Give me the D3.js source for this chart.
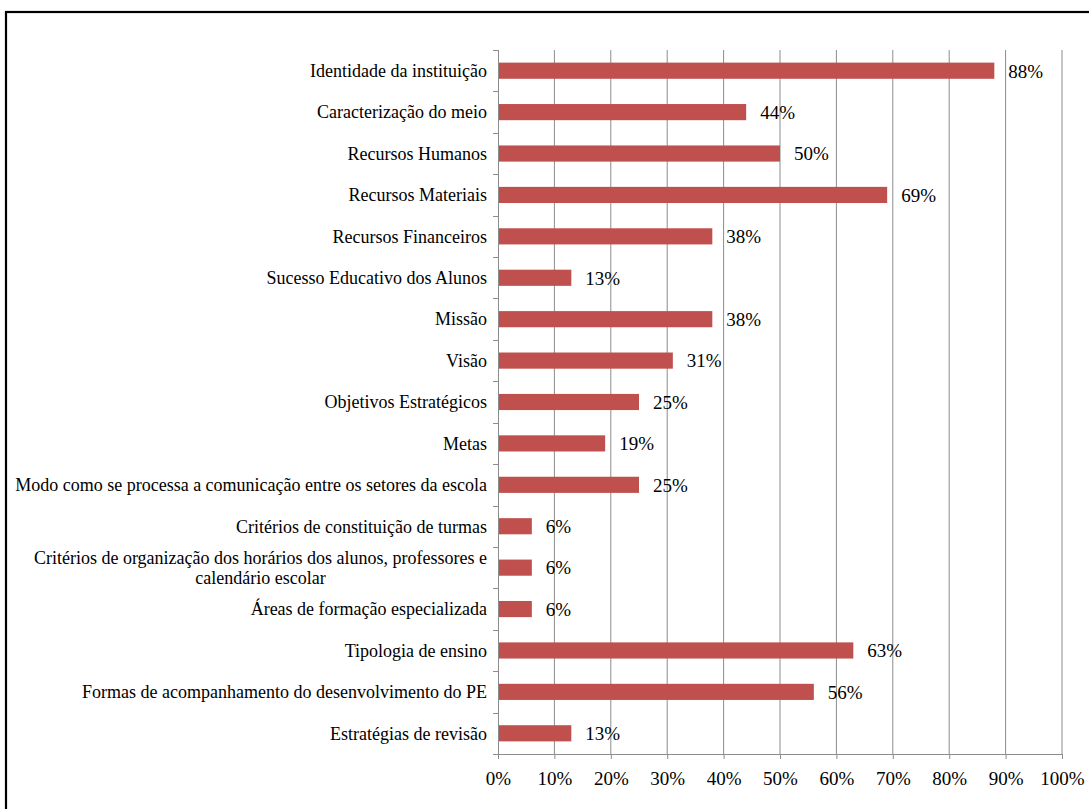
<!DOCTYPE html>
<html>
<head>
<meta charset="utf-8">
<script src="https://cdn.jsdelivr.net/npm/d3@7"></script>
<style>
  html, body { margin: 0; padding: 0; background: #fff; }
  svg { display: block; }
  text { font-family: "Liberation Serif", "Times New Roman", serif; fill: #000; }
</style>
</head>
<body>
<svg id="chart" width="1089" height="809"></svg>
<script>
// Elements of the school's educational project (PE) and share of documents that include them
const categories = [
  "Identidade da instituição",
  "Caracterização do meio",
  "Recursos Humanos",
  "Recursos Materiais",
  "Recursos Financeiros",
  "Sucesso Educativo dos Alunos",
  "Missão",
  "Visão",
  "Objetivos Estratégicos",
  "Metas",
  "Modo como se processa a comunicação entre os setores da escola",
  "Critérios de constituição de turmas",
  "Critérios de organização dos horários dos alunos, professores e|calendário escolar",
  "Áreas de formação especializada",
  "Tipologia de ensino",
  "Formas de acompanhamento do desenvolvimento do PE",
  "Estratégias de revisão"
];
const values = [88, 44, 50, 69, 38, 13, 38, 31, 25, 19, 25, 6, 6, 6, 63, 56, 13];
const tickValues = [0, 10, 20, 30, 40, 50, 60, 70, 80, 90, 100];

const svg = d3.select("#chart");
const W = 1089, H = 809;
const margin = { top: 50, right: 27, bottom: 55, left: 498 };
const plotW = W - margin.left - margin.right;
const plotH = H - margin.top - margin.bottom;
const labelSize = "18px", numberSize = "19px";

// outer frame
svg.append("rect")
  .attr("x", 6).attr("y", 12)
  .attr("width", W + 20).attr("height", H + 20)
  .attr("fill", "none").attr("stroke", "#000").attr("stroke-width", 2.2);

const g = svg.append("g").attr("transform", `translate(${margin.left},${margin.top})`);

const x = d3.scaleLinear().domain([0, 100]).range([0, plotW]);
const y = d3.scaleBand().domain(categories).range([0, plotH])
  .paddingInner(0.61).paddingOuter(0.305);
const step = y.step();

// vertical gridlines
g.append("g").selectAll("line")
  .data(tickValues.slice(1))
  .join("line")
  .attr("x1", d => x(d)).attr("x2", d => x(d))
  .attr("y1", 0).attr("y2", plotH)
  .attr("stroke", "#8c8c8c").attr("stroke-width", 1);

// bars
g.append("g").selectAll("rect")
  .data(values)
  .join("rect")
  .attr("x", x(0))
  .attr("y", (d, i) => y(categories[i]))
  .attr("width", d => x(d) - x(0))
  .attr("height", y.bandwidth())
  .attr("fill", "#c0504d");

// value labels
g.append("g").selectAll("text")
  .data(values)
  .join("text")
  .attr("x", d => x(d) + 14)
  .attr("y", (d, i) => y(categories[i]) + y.bandwidth() / 2)
  .attr("dy", "0.36em")
  .style("font-size", numberSize)
  .text(d => d + "%");

// category axis line and boundary ticks
g.append("line")
  .attr("x1", 0.5).attr("x2", 0.5).attr("y1", 0).attr("y2", plotH)
  .attr("stroke", "#8c8c8c");
g.append("g").selectAll("line")
  .data(d3.range(categories.length + 1))
  .join("line")
  .attr("x1", -5).attr("x2", 0)
  .attr("y1", i => Math.round(i * step) + 0.5).attr("y2", i => Math.round(i * step) + 0.5)
  .attr("stroke", "#8c8c8c");

// category labels (a "|" marks a line break)
const labels = g.append("g");
categories.forEach(c => {
  const lines = c.split("|");
  const cy = y(c) + y.bandwidth() / 2;
  if (lines.length === 1) {
    labels.append("text")
      .attr("x", -11).attr("y", cy).attr("dy", "0.35em")
      .attr("text-anchor", "end")
      .style("font-size", labelSize)
      .text(c);
  } else {
    const t1 = labels.append("text")
      .attr("x", -11).attr("y", cy - 10).attr("dy", "0.35em")
      .attr("text-anchor", "end")
      .style("font-size", labelSize)
      .text(lines[0]);
    const w = t1.node().getComputedTextLength();
    labels.append("text")
      .attr("x", -11 - w / 2).attr("y", cy + 10).attr("dy", "0.35em")
      .attr("text-anchor", "middle")
      .style("font-size", labelSize)
      .text(lines[1]);
  }
});

// value axis
const xAxis = d3.axisBottom(x)
  .tickValues(tickValues)
  .tickFormat(d => d + "%")
  .tickSize(5)
  .tickPadding(13);
const ax = g.append("g")
  .attr("transform", `translate(0,${plotH})`)
  .call(xAxis);
ax.select(".domain").attr("stroke", "#8c8c8c").attr("d", `M0.5,0.5H${plotW + 0.5}`);
ax.selectAll(".tick line").attr("stroke", "#8c8c8c");
ax.selectAll(".tick text")
  .style("font-size", numberSize)
  .style("font-family", "'Liberation Serif', 'Times New Roman', serif")
  .attr("fill", "#000");
</script>
</body>
</html>
